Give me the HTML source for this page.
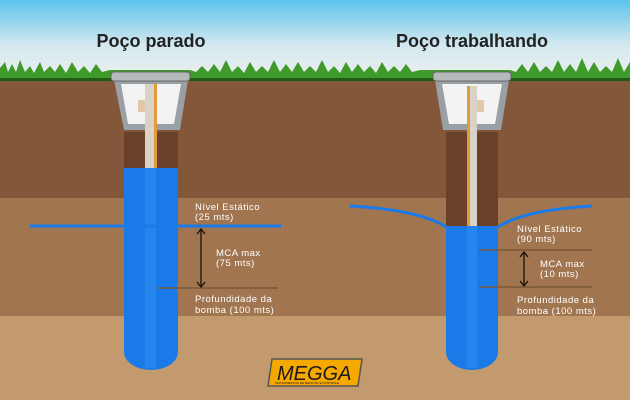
<!DOCTYPE html>
<html><head><meta charset="utf-8"><style>
body{margin:0;width:630px;height:400px;overflow:hidden}
svg text{font-family:"Liberation Sans",sans-serif}
</style></head><body>
<svg width="630" height="400" viewBox="0 0 630 400" xmlns="http://www.w3.org/2000/svg">
<defs>
<linearGradient id="sky" x1="0" y1="0" x2="0" y2="1"><stop offset="0" stop-color="#5cc3ec"/><stop offset="0.55" stop-color="#d4e8ef"/><stop offset="1" stop-color="#eef0ef"/></linearGradient>
</defs>
<rect width="630" height="82" fill="url(#sky)"/>
<rect y="80" width="630" height="118" fill="#82573a"/>
<rect y="198" width="630" height="118" fill="#a17550"/>
<rect y="316" width="630" height="84" fill="#c39a6e"/>
<!-- grass -->
<path d="M0 80 L0 68 L5 62 L8 72 L12 64 L16 72 L20 60 L25 72 L30 66 L34 73 L40 62 L44 72 L50 66 L55 72 L60 64 L66 73 L72 62 L78 72 L84 66 L90 73 L96 64 L102 72 L110 70 L190 70 L196 72 L202 66 L208 72 L214 64 L220 72 L226 60 L232 72 L238 66 L244 73 L250 62 L256 72 L262 66 L268 72 L274 60 L280 72 L286 64 L292 72 L298 62 L304 72 L310 66 L316 72 L322 60 L328 72 L334 66 L340 73 L346 62 L352 72 L358 64 L364 72 L370 66 L376 73 L382 62 L388 72 L394 66 L400 72 L406 64 L412 72 L420 70 L510 70 L516 72 L522 64 L528 72 L534 62 L540 72 L546 66 L552 72 L558 60 L564 72 L570 64 L576 72 L582 58 L588 72 L594 62 L600 72 L606 66 L612 72 L618 58 L624 72 L630 62 L630 80 Z" fill="#3f9a2a"/>
<rect y="78" width="630" height="3" fill="#1f5a16"/>
<!-- left well -->
<rect x="124" y="132" width="54" height="40" fill="#6a4128"/>
<path d="M124 168 H178 V352 A27 18 0 0 1 124 352 Z" fill="#1a7be8"/>
<rect x="145" y="168" width="11" height="200" fill="#2d8cf0" opacity="0.7"/>
<path d="M114 80 L188 80 L180 130 L124 130 Z" fill="#9aa0a4"/>
<path d="M121 84 L181 84 L174 124 L128 124 Z" fill="#f3f3f3"/>
<rect x="145" y="84" width="11" height="84" fill="#d9d2c7"/>
<rect x="154" y="84" width="3" height="84" fill="#e39a3c"/>
<rect x="138" y="100" width="7" height="12" fill="#e0c8a8"/>
<rect x="111" y="72" width="79" height="9" rx="3" fill="#b5b9bc" stroke="#666" stroke-width="1"/>
<line x1="30" y1="226" x2="281" y2="226" stroke="#1a7be8" stroke-width="3"/>
<line x1="157" y1="288" x2="278" y2="288" stroke="#7b5838" stroke-width="1.5"/>
<line x1="201" y1="230" x2="201" y2="286" stroke="#1a1008" stroke-width="1.3"/>
<path d="M197 234 L201 229 L205 234 M197 282 L201 287 L205 282" fill="none" stroke="#1a1008" stroke-width="1.3"/>
<!-- right well -->
<rect x="446" y="132" width="52" height="96" fill="#6a4128"/>
<path d="M446 226 H498 V352 A26 18 0 0 1 446 352 Z" fill="#1a7be8"/>
<rect x="467" y="226" width="10" height="142" fill="#2d8cf0" opacity="0.7"/>
<path d="M435 80 L509 80 L501 130 L443 130 Z" fill="#9aa0a4"/>
<path d="M442 84 L502 84 L495 124 L449 124 Z" fill="#f3f3f3"/>
<rect x="467" y="86" width="10" height="140" fill="#d9d2c7"/>
<rect x="467" y="86" width="3" height="140" fill="#e39a3c"/>
<rect x="477" y="100" width="7" height="12" fill="#e0c8a8"/>
<rect x="433" y="72" width="78" height="9" rx="3" fill="#b5b9bc" stroke="#666" stroke-width="1"/>
<path d="M350 206 Q420 210 446 227" fill="none" stroke="#1a7be8" stroke-width="3"/>
<path d="M498 227 Q524 210 592 206" fill="none" stroke="#1a7be8" stroke-width="3"/>
<line x1="479" y1="250" x2="592" y2="250" stroke="#7b5838" stroke-width="1.5"/>
<line x1="479" y1="287" x2="592" y2="287" stroke="#7b5838" stroke-width="1.5"/>
<line x1="524" y1="253" x2="524" y2="285" stroke="#1a1008" stroke-width="1.3"/>
<path d="M520 257 L524 252 L528 257 M520 281 L524 286 L528 281" fill="none" stroke="#1a1008" stroke-width="1.3"/>
<!-- titles -->
<text x="151" y="47" text-anchor="middle" font-size="18" font-weight="bold" fill="#222">Poço parado</text>
<text x="472" y="47" text-anchor="middle" font-size="18" font-weight="bold" fill="#222">Poço trabalhando</text>
<g font-size="9.5" fill="#fff" letter-spacing="0.5">
<text x="195" y="210">Nível Estático</text><text x="195" y="220">(25 mts)</text>
<text x="216" y="256">MCA max</text><text x="216" y="266">(75 mts)</text>
<text x="195" y="302">Profundidade da</text><text x="195" y="313">bomba (100 mts)</text>
<text x="517" y="232">Nível Estático</text><text x="517" y="242">(90 mts)</text>
<text x="540" y="267">MCA max</text><text x="540" y="277">(10 mts)</text>
<text x="517" y="303">Profundidade da</text><text x="517" y="314">bomba (100 mts)</text>
</g>
<!-- logo -->
<path d="M272 359 L362 359 L358 386 L268 386 Z" fill="#f5a800" stroke="#555" stroke-width="1.5"/>
<text x="277" y="380" font-size="20" font-style="italic" fill="#1a1a1a">MEGGA</text>
<text x="275" y="384" font-size="3" fill="#1a1a1a">INSTRUMENTOS DE MEDIÇÃO E CONTROLE</text>
</svg>
</body></html>
